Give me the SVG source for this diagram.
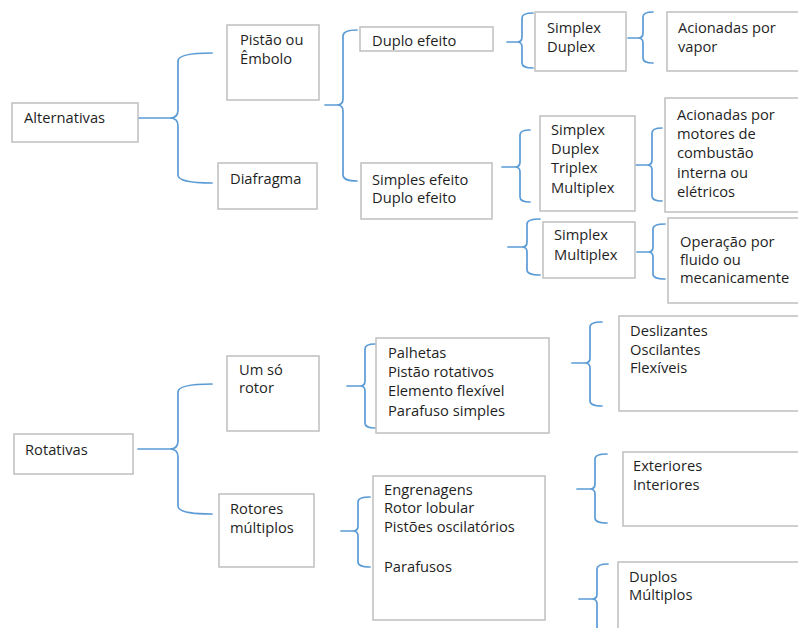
<svg xmlns="http://www.w3.org/2000/svg" width="798" height="628" viewBox="0 0 798 628">
<style>
.box{fill:#fff;stroke:#bfbfbf;stroke-width:1.5}
.t{font-family:"Open Sans","Noto Sans",sans-serif;font-size:14.7px;fill:#1f1f1f}
.br{fill:none;stroke:#5b9bd5;stroke-width:1.7;stroke-linecap:round;stroke-linejoin:round}
</style>
<rect width="798" height="628" fill="#fff"/>
<g id="connectors">
<path class="br" d="M212,53 Q178,53 178,61 L178,110 Q178,118 170,118 L138,118 M170,118 Q178,118 178,126 L178,175 Q178,183 212,183"/>
<path class="br" d="M357,30 Q343,30 343,36 L343,99 Q343,105 337,105 L325,105 M337,105 Q343,105 343,111 L343,175 Q343,181 357,181"/>
<path class="br" d="M533,13 Q522,13 522,18 L522,37 Q522,42 517,42 L507,42 M517,42 Q522,42 522,47 L522,63 Q522,68 533,68"/>
<path class="br" d="M653,12 Q643,12 643,17 L643,33 Q643,38 638,38 L628,38 M638,38 Q643,38 643,43 L643,58 Q643,63 653,63"/>
<path class="br" d="M530,130 Q520,130 520,135 L520,162 Q520,167 515,167 L502,167 M515,167 Q520,167 520,172 L520,197 Q520,202 530,202"/>
<path class="br" d="M662,128 Q652,128 652,133 L652,160 Q652,165 647,165 L636,165 M647,165 Q652,165 652,170 L652,196 Q652,201 662,201"/>
<path class="br" d="M540,219 Q527,219 527,224 L527,242 Q527,247 522,247 L508,247 M522,247 Q527,247 527,252 L527,270 Q527,275 540,275"/>
<path class="br" d="M665,224 Q653,224 653,229 L653,247 Q653,252 648,252 L637,252 M648,252 Q653,252 653,257 L653,274 Q653,279 665,279"/>
<path class="br" d="M212,384 Q178,384 178,392 L178,441 Q178,449 170,449 L138,449 M170,449 Q178,449 178,457 L178,506 Q178,514 212,514"/>
<path class="br" d="M375,344 Q365,344 365,349 L365,381 Q365,386 360,386 L347,386 M360,386 Q365,386 365,391 L365,423 Q365,428 375,428"/>
<path class="br" d="M370,497 Q358,497 358,502 L358,526 Q358,531 353,531 L341,531 M353,531 Q358,531 358,536 L358,562 Q358,567 370,567"/>
<path class="br" d="M602,322 Q590,322 590,327 L590,358 Q590,363 585,363 L572,363 M585,363 Q590,363 590,368 L590,401 Q590,406 602,406"/>
<path class="br" d="M607,454 Q595,454 595,459 L595,484 Q595,489 590,489 L577,489 M590,489 Q595,489 595,494 L595,518 Q595,523 607,523"/>
<path class="br" d="M608,564 Q597,564 597,569 L597,594 Q597,599 592,599 L579,599 M592,599 Q597,599 597,604 L597,640"/>
</g>
<g id="alternativas"><rect class="box" x="12" y="103" width="126" height="39"/><text class="t" x="24" y="123">Alternativas</text></g>
<g id="pistao"><rect class="box" x="227" y="25" width="92" height="75"/><text class="t" x="240" y="45">Pistão ou<tspan x="240" y="64">Êmbolo</tspan></text></g>
<g id="diafragma"><rect class="box" x="218" y="163" width="99" height="46"/><text class="t" x="230" y="184">Diafragma</text></g>
<g id="duplo-efeito"><rect class="box" x="360" y="27" width="133" height="24"/><text class="t" x="372" y="46">Duplo efeito</text></g>
<g id="simples-duplo"><rect class="box" x="361" y="163" width="131" height="56"/><text class="t" x="372" y="185">Simples efeito<tspan x="372" y="203">Duplo efeito</tspan></text></g>
<g id="simplex-duplex"><rect class="box" x="535" y="12" width="91" height="59"/><text class="t" x="547" y="33">Simplex<tspan x="547" y="52">Duplex</tspan></text></g>
<g id="vapor"><rect class="box" x="667" y="12" width="140" height="59"/><text class="t" x="678" y="33">Acionadas por<tspan x="678" y="52">vapor</tspan></text></g>
<g id="simplex-multi4"><rect class="box" x="540" y="116" width="95" height="95"/><text class="t" x="551" y="135">Simplex<tspan x="551" y="154">Duplex</tspan><tspan x="551" y="173">Triplex</tspan><tspan x="551" y="193">Multiplex</tspan></text></g>
<g id="motores"><rect class="box" x="665" y="98" width="140" height="114"/><text class="t" x="677" y="120">Acionadas por<tspan x="677" y="139">motores de</tspan><tspan x="677" y="158">combustão</tspan><tspan x="677" y="178">interna ou</tspan><tspan x="677" y="197">elétricos</tspan></text></g>
<g id="simplex-multiplex"><rect class="box" x="543" y="222" width="92" height="56"/><text class="t" x="554" y="240">Simplex<tspan x="554" y="260">Multiplex</tspan></text></g>
<g id="operacao"><rect class="box" x="668" y="218" width="140" height="85"/><text class="t" x="680" y="247">Operação por<tspan x="680" y="265">fluido ou</tspan><tspan x="680" y="283">mecanicamente</tspan></text></g>
<g id="rotativas"><rect class="box" x="14" y="434" width="119" height="40"/><text class="t" x="25" y="455">Rotativas</text></g>
<g id="um-so-rotor"><rect class="box" x="227" y="356" width="92" height="75"/><text class="t" x="239" y="375">Um só<tspan x="239" y="393">rotor</tspan></text></g>
<g id="rotores-multiplos"><rect class="box" x="219" y="494" width="95" height="73"/><text class="t" x="230" y="514">Rotores<tspan x="230" y="533">múltiplos</tspan></text></g>
<g id="palhetas"><rect class="box" x="376" y="338" width="173" height="95"/><text class="t" x="388" y="358">Palhetas<tspan x="388" y="377">Pistão rotativos</tspan><tspan x="388" y="396">Elemento flexível</tspan><tspan x="388" y="416">Parafuso simples</tspan></text></g>
<g id="deslizantes"><rect class="box" x="619" y="316" width="190" height="95"/><text class="t" x="630" y="336">Deslizantes<tspan x="630" y="355">Oscilantes</tspan><tspan x="630" y="373">Flexíveis</tspan></text></g>
<g id="engrenagens"><rect class="box" x="373" y="476" width="172" height="144"/><text class="t" x="384" y="495">Engrenagens<tspan x="384" y="513">Rotor lobular</tspan><tspan x="384" y="532">Pistões oscilatórios</tspan><tspan x="384" y="572">Parafusos</tspan></text></g>
<g id="exteriores"><rect class="box" x="623" y="452" width="190" height="74"/><text class="t" x="633" y="471">Exteriores<tspan x="633" y="490">Interiores</tspan></text></g>
<g id="duplos"><rect class="box" x="618" y="562" width="190" height="80"/><text class="t" x="629" y="582">Duplos<tspan x="629" y="600">Múltiplos</tspan></text></g>
</svg>
